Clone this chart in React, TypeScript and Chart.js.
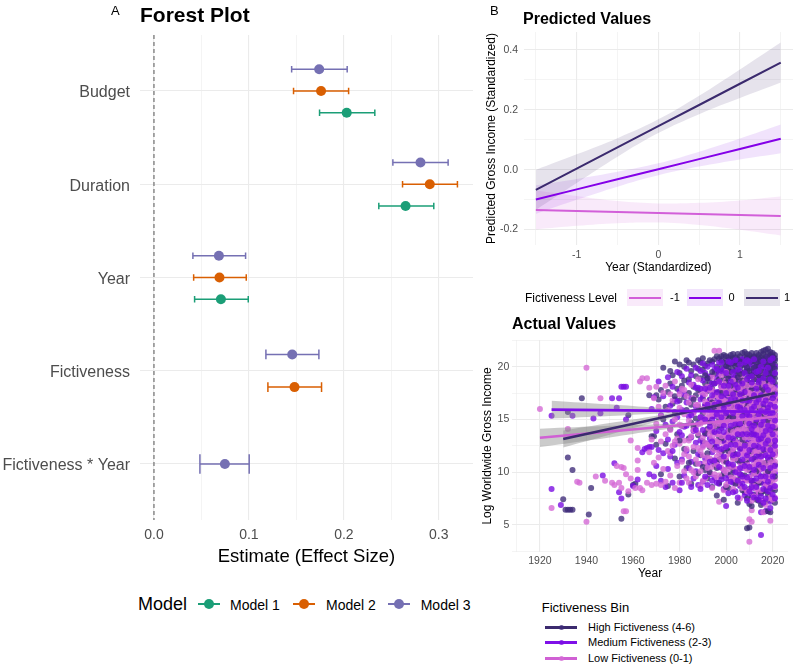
import { useEffect, useRef } from 'react';
import { Chart, registerables } from 'chart.js';

Chart.register(...registerables);

const FONT = '"Liberation Sans", Arial, Helvetica, sans-serif';
Chart.defaults.font.family = FONT;

// ---------- Panel A: forest plot ----------
const predictors = ['Budget', 'Duration', 'Year', 'Fictiveness', 'Fictiveness * Year'];
const modelNames = ['Model 1', 'Model 2', 'Model 3'];
const model1Estimate = [0.203, 0.265, 0.0705, null, null];
const model1Lower = [0.1744, 0.2368, 0.0428, null, null];
const model1Upper = [0.2326, 0.2947, 0.0993, null, null];
const model2Estimate = [0.176, 0.2905, 0.069, 0.148, null];
const model2Lower = [0.147, 0.2618, 0.0418, 0.12, null];
const model2Upper = [0.205, 0.3196, 0.0972, 0.1765, null];
const model3Estimate = [0.174, 0.2807, 0.0684, 0.1456, 0.0747];
const model3Lower = [0.145, 0.2516, 0.041, 0.1179, 0.0484];
const model3Upper = [0.2035, 0.3098, 0.0965, 0.1737, 0.1003];
const effectTicks = [0, 0.05, 0.1, 0.15, 0.2, 0.25, 0.3];
const effectTickLabels = ['0.0', '', '0.1', '', '0.2', '', '0.3'];

// ---------- Panel B (top): predicted values ----------
const predYear = [-1.5, -1, -0.5, 0, 0.5, 1, 1.5];
const fitLevelNeg1 = [-0.135, -0.138, -0.142, -0.145, -0.148, -0.152, -0.155];
const lowerLevelNeg1 = [-0.2, -0.188, -0.179, -0.177, -0.185, -0.201, -0.22];
const upperLevelNeg1 = [-0.07, -0.088, -0.105, -0.113, -0.111, -0.103, -0.09];
const fitLevel0 = [-0.1, -0.066, -0.032, 0.001, 0.035, 0.069, 0.103];
const lowerLevel0 = [-0.148, -0.101, -0.057, -0.019, 0.01, 0.034, 0.055];
const upperLevel0 = [-0.052, -0.031, -0.007, 0.021, 0.06, 0.104, 0.151];
const fitLevel1 = [-0.068, 0.003, 0.074, 0.145, 0.216, 0.287, 0.358];
const lowerLevel1 = [-0.135, -0.045, 0.043, 0.122, 0.185, 0.239, 0.291];
const upperLevel1 = [-0.001, 0.051, 0.105, 0.168, 0.247, 0.335, 0.425];
const predXTicks = [-1.5, -1, -0.5, 0, 0.5, 1, 1.5];
const predXTickLabels = ['', '-1', '', '0', '', '1', ''];
const predYTicks = [-0.2, -0.1, 0, 0.1, 0.2, 0.3, 0.4];
const predYTickLabels = ['-0.2', '', '0.0', '', '0.2', '', '0.4'];
const levelLabels = ['-1', '0', '1'];

// ---------- Panel B (bottom): actual values, films listed in two batches ----------
const highFictivenessA: Array<[number, number[]]> = [
  [1930, [7.45]], [1931, [6.45]], [1932, [11.4, 6.45, 15.7]], [1933, [6.45]], [1934, [10.2, 6.45]],
  [1938, [17.0]], [1941, [6.0]], [1942, [8.5]], [1955, [5.6]], [1958, [15.4, 7.9]], [1960, [8.8]],
  [1961, [8.9]], [1967, [17.3]], [1968, [13.4]], [1969, [13.4]],
  [1970, [17.3, 12.6]], [1971, [16.9]], [1972, [17.8, 9.8]], [1973, [19.9, 15.0]], [1974, [12.7, 16.2]],
  [1975, [17.6, 8.7]], [1976, [18.4, 14.1]], [1977, [16.5, 19.2]], [1978, [20.5, 11.3, 15.7]],
  [1979, [17.9, 13.6]], [1980, [19.4, 16.8, 9.6]], [1981, [18.2, 14.4]], [1982, [20.0, 17.1, 12.2]],
  [1983, [20.6, 15.9, 10.4]], [1984, [18.8, 13.2, 17.5]], [1985, [19.6, 16.4, 8.9, 14.7]],
  [1986, [18.1, 12.0, 20.2]], [1987, [17.3, 15.1, 10.8, 19.1]], [1988, [16.2, 19.8, 13.5]],
  [1989, [18.9, 14.8, 11.6, 20.4]], [1990, [19.7, 17.0, 12.9, 15.6]], [1991, [18.4, 10.2, 16.3, 20.1]],
  [1992, [20.3, 14.1, 17.7, 9.4]], [1993, [19.0, 16.9, 12.4, 18.5]], [1994, [20.5, 15.3, 11.1, 17.9, 13.8]],
  [1995, [19.3, 17.2, 14.6, 10.7, 20.7]], [1996, [18.6, 20.0, 16.1, 12.8, 7.8]],
  [1997, [20.8, 17.6, 15.0, 13.3, 19.5]], [1998, [19.9, 18.2, 16.6, 11.9, 14.4]],
  [1999, [20.4, 18.8, 17.1, 15.5, 9.9, 13.0]], [2000, [20.6, 19.2, 17.8, 16.0, 12.3, 14.9]],
  [2001, [20.9, 19.6, 18.3, 16.8, 13.7, 10.6, 8.5]], [2002, [20.2, 18.9, 17.4, 15.2, 12.0, 20.7]],
  [2003, [20.8, 19.7, 18.6, 16.3, 14.2, 11.4, 9.2]], [2004, [20.5, 19.0, 17.9, 15.8, 13.1, 10.1, 20.9]],
  [2005, [20.7, 19.4, 18.1, 16.6, 14.7, 12.6, 7.1]], [2006, [21.0, 19.9, 18.7, 17.3, 15.4, 13.5, 11.0, 8.8]],
  [2007, [20.6, 19.3, 18.0, 16.9, 14.0, 12.2, 9.6]], [2008, [20.9, 20.1, 18.5, 17.6, 15.9, 13.8, 10.9, 8.1]],
  [2009, [20.4, 19.6, 18.9, 17.0, 15.1, 12.7, 9.3, 4.7]],
  [2010, [21.1, 20.3, 19.1, 17.7, 16.4, 14.5, 11.8, 8.4, 4.75]],
  [2011, [20.8, 19.8, 18.4, 16.7, 15.3, 13.2, 10.5, 7.6]],
  [2012, [21.0, 20.5, 19.4, 18.2, 16.1, 14.8, 12.5, 9.9, 7.9]],
  [2013, [20.7, 20.0, 18.8, 17.4, 15.6, 13.6, 11.2, 8.7]],
  [2014, [21.1, 20.6, 19.7, 18.6, 17.2, 15.0, 12.9, 10.3, 7.3]],
  [2015, [20.9, 20.2, 19.0, 17.8, 16.3, 14.3, 11.6, 9.0, 6.9]],
  [2016, [21.2, 20.7, 19.5, 18.3, 16.9, 15.5, 13.4, 10.8, 8.2]],
  [2017, [21.0, 20.4, 19.8, 18.0, 16.6, 14.1, 12.1, 9.5, 7.2, 6.3]],
  [2018, [21.7, 20.8, 20.1, 19.2, 17.5, 15.8, 13.9, 11.4, 8.6]],
  [2019, [21.4, 20.9, 20.3, 19.6, 18.7, 17.1, 14.6, 12.3, 10.0, 7.4]],
  [2020, [21.0, 20.6, 19.9, 18.9, 17.9, 16.2, 13.3, 11.7, 9.4, 7.6]],
  [2021, [20.8, 20.2, 19.3, 18.4, 16.8, 15.2, 13.0, 10.7, 8.3]],
];
const highFictivenessB: Array<[number, number[]]> = [
  [1976, [19.6]], [1978, [17.2]], [1980, [20.2, 13.0]], [1982, [18.7]], [1984, [20.4, 10.9]],
  [1986, [16.9, 14.3]], [1988, [20.6, 17.8, 9.9]], [1990, [20.8, 10.5]], [1991, [19.2, 13.7]],
  [1992, [18.9, 11.8, 16.0]], [1993, [20.6, 14.7, 10.0]], [1994, [19.5, 16.6, 8.6]],
  [1995, [18.4, 16.0, 12.3]], [1996, [21.0, 17.5, 14.3, 10.4]], [1997, [18.8, 16.3, 11.2, 9.0]],
  [1998, [21.0, 20.6, 17.5, 13.2, 9.6]], [1999, [21.1, 19.4, 16.4, 12.1, 7.4]],
  [2000, [21.0, 20.1, 18.5, 15.3, 11.0, 8.6]], [2001, [20.3, 18.9, 17.5, 15.2, 12.0, 19.9]],
  [2002, [21.1, 19.5, 18.2, 16.3, 14.0, 9.8, 13.1]], [2003, [21.2, 20.3, 17.5, 15.2, 13.0, 10.2]],
  [2004, [20.1, 19.6, 18.6, 17.1, 14.4, 11.7, 8.9]], [2005, [21.2, 20.2, 19.0, 17.5, 15.7, 13.6, 11.1, 9.3]],
  [2006, [20.5, 19.3, 18.2, 16.2, 14.4, 12.3, 9.8]], [2007, [21.3, 20.2, 18.7, 17.5, 15.5, 13.1, 10.9, 8.3]],
  [2008, [21.4, 19.5, 18.0, 16.7, 14.8, 12.6, 9.7]], [2009, [21.2, 20.9, 19.9, 18.3, 16.3, 14.0, 11.2, 7.5]],
  [2010, [20.8, 19.6, 18.5, 17.0, 15.5, 13.4, 10.2, 7.0]],
  [2011, [21.3, 20.5, 19.2, 17.9, 16.2, 14.4, 12.0, 9.2, 6.8]],
  [2012, [20.9, 19.9, 18.8, 17.3, 15.5, 13.8, 11.3, 8.8]],
  [2013, [21.3, 20.4, 19.4, 18.2, 16.8, 14.7, 12.3, 10.1, 7.4]],
  [2014, [20.9, 20.1, 19.2, 17.9, 16.1, 14.1, 11.7, 9.0]],
  [2015, [21.4, 20.6, 19.6, 18.4, 17.1, 15.4, 13.2, 10.6, 8.0]],
  [2016, [21.5, 20.2, 19.0, 17.8, 16.2, 14.4, 12.1, 9.6, 7.1]],
  [2017, [21.6, 20.8, 19.3, 18.7, 17.3, 15.4, 13.3, 10.9, 8.3]],
  [2018, [21.3, 20.4, 19.6, 18.4, 16.7, 14.9, 12.7, 10.1, 7.9, 6.3]],
  [2019, [21.1, 20.6, 19.9, 19.0, 18.1, 16.3, 13.5, 11.2, 8.9, 6.2]],
  [2020, [21.3, 20.9, 20.2, 19.4, 18.4, 17.0, 15.0, 12.6, 10.6, 8.4]],
  [2021, [21.1, 20.6, 19.8, 18.9, 17.6, 15.9, 14.1, 12.0, 9.6, 7.1]],
];

const mediumFictivenessA: Array<[number, number[]]> = [
  [1925, [15.35, 8.4]], [1929, [6.9]], [1934, [15.35]], [1943, [15.1]], [1946, [15.6]], [1947, [9.7]],
  [1951, [17.0]], [1952, [10.85]], [1953, [16.1]], [1954, [17.0, 8.1]], [1955, [18.1, 7.5]],
  [1956, [18.1]], [1957, [18.1, 15.0]], [1960, [8.7]], [1962, [9.3]], [1964, [11.9]], [1965, [12.2]],
  [1966, [12.3]], [1967, [12.4, 9.8]], [1968, [16.0, 12.4]], [1969, [9.6, 17.1]], [1970, [13.9, 10.6]],
  [1971, [18.6, 12.1]], [1972, [15.4, 9.2]], [1973, [11.8, 17.2]], [1974, [14.5, 8.6]],
  [1975, [19.0, 13.1, 10.3]], [1976, [16.3, 11.5]], [1977, [18.1, 9.0, 14.8]], [1978, [12.6, 16.9]],
  [1979, [19.5, 10.9, 15.2]], [1980, [13.8, 17.7, 8.3]], [1981, [11.2, 15.9, 19.1]],
  [1982, [14.3, 9.7, 17.4]], [1983, [16.6, 12.0, 19.8]], [1984, [10.4, 15.3, 18.5]],
  [1985, [13.3, 17.0, 11.0, 19.2]], [1986, [15.7, 9.4, 18.3, 13.9]], [1987, [12.8, 16.2, 19.9, 10.1]],
  [1988, [14.6, 18.0, 11.7, 8.8]], [1989, [16.9, 13.0, 19.6, 10.8]], [1990, [15.1, 18.7, 12.5, 9.1, 17.3]],
  [1991, [13.6, 16.4, 19.4, 11.3]], [1992, [17.8, 14.9, 10.6, 18.9, 12.7]],
  [1993, [15.9, 13.2, 19.1, 9.8, 16.8]], [1994, [18.4, 14.0, 11.9, 16.1, 20.2]],
  [1995, [12.4, 17.5, 15.3, 9.5, 19.7]], [1996, [16.7, 13.7, 18.9, 10.9, 14.5]],
  [1997, [19.3, 15.6, 12.1, 17.2, 8.9, 20.4]], [1998, [14.2, 18.1, 16.0, 11.4, 13.1]],
  [1999, [17.0, 19.8, 12.9, 15.1, 10.2, 8.4]], [2000, [18.6, 14.7, 16.6, 11.1, 13.5, 20.0, 6.8]],
  [2001, [15.8, 19.4, 12.6, 17.3, 9.7, 14.1]], [2002, [17.9, 13.4, 16.2, 10.5, 19.0, 11.8, 15.0]],
  [2003, [14.8, 18.3, 12.0, 16.9, 9.0, 20.3]], [2004, [16.4, 19.1, 13.9, 11.5, 17.7, 15.2, 8.2]],
  [2005, [18.8, 15.5, 12.8, 17.0, 10.0, 14.3, 20.5]], [2006, [13.6, 16.8, 19.6, 11.0, 15.7, 8.7, 18.2]],
  [2007, [17.4, 14.4, 12.2, 19.3, 16.0, 10.4, 20.7]],
  [2008, [15.3, 18.6, 13.1, 11.7, 16.9, 9.3, 14.0, 7.8]],
  [2009, [19.9, 16.3, 12.5, 17.6, 10.8, 14.9, 8.0]],
  [2010, [17.1, 13.8, 15.9, 11.3, 19.2, 9.6, 18.3, 12.9]],
  [2011, [16.5, 14.6, 20.2, 10.1, 17.8, 12.4, 7.9, 15.4]],
  [2012, [18.0, 13.0, 15.6, 11.9, 19.6, 9.2, 16.7, 8.5]],
  [2013, [14.2, 17.3, 20.0, 12.7, 10.6, 15.8, 18.9, 7.7]],
  [2014, [16.1, 19.0, 13.5, 11.1, 17.9, 9.8, 14.7, 20.6, 8.1]],
  [2015, [15.0, 18.4, 12.3, 16.6, 10.3, 19.5, 13.9, 4.05, 6.2]],
  [2016, [17.6, 14.0, 11.6, 19.8, 15.9, 9.0, 12.8, 18.2]],
  [2017, [16.0, 20.3, 13.2, 10.7, 17.5, 14.8, 8.8, 6.3]],
  [2018, [18.7, 15.2, 12.1, 19.4, 16.8, 10.0, 13.7, 20.9]],
  [2019, [14.5, 17.2, 11.4, 19.9, 15.6, 9.4, 13.0, 18.4, 7.2]],
  [2020, [16.3, 19.1, 12.6, 14.9, 10.9, 17.7, 20.4, 8.6]],
  [2021, [15.5, 18.1, 13.4, 11.8, 16.9, 9.9, 20.0, 14.2]],
];
const mediumFictivenessB: Array<[number, number[]]> = [
  [1977, [12.0]], [1979, [16.7]], [1981, [13.5, 9.0]], [1983, [14.4]], [1985, [15.4, 8.6]],
  [1987, [14.0, 18.0]], [1989, [15.2, 8.4, 17.9]], [1990, [14.0, 20.3]], [1991, [17.9, 9.6, 15.0]],
  [1992, [16.4, 8.8, 20.0]], [1993, [18.0, 11.0, 14.3]], [1994, [12.9, 17.3, 9.2, 15.0]],
  [1995, [18.4, 13.8, 16.4, 11.1]], [1996, [19.8, 15.5, 12.4, 9.0, 17.6]], [1997, [16.6, 13.9, 10.5, 18.6]],
  [1998, [19.6, 17.2, 12.2, 9.3, 15.2, 20.4]], [1999, [18.2, 16.1, 13.8, 11.5, 14.4]],
  [2000, [19.4, 17.5, 15.6, 12.4, 9.4]], [2001, [20.5, 18.2, 16.5, 13.3, 10.8, 8.0]],
  [2002, [20.4, 18.6, 14.4, 12.6, 9.1, 16.9]], [2003, [19.5, 17.4, 15.6, 13.2, 10.7, 11.6, 8.1]],
  [2004, [20.6, 18.3, 16.9, 14.6, 12.6, 10.0]], [2005, [19.7, 16.2, 13.6, 11.7, 9.2, 18.0, 7.6]],
  [2006, [20.2, 17.4, 14.6, 12.2, 9.8, 16.1, 10.4]], [2007, [18.4, 15.3, 13.6, 11.2, 8.9, 16.8, 9.6]],
  [2008, [20.4, 17.6, 15.9, 12.5, 10.6, 19.4, 8.6]], [2009, [18.8, 15.5, 13.6, 11.6, 9.5, 20.6, 16.8, 7.3]],
  [2010, [20.5, 16.8, 14.6, 12.1, 10.5, 8.2, 15.3]], [2011, [19.1, 18.5, 16.0, 13.6, 11.2, 9.2, 14.1, 8.6]],
  [2012, [20.7, 17.3, 14.4, 12.5, 10.2, 16.2, 7.6, 13.6]], [2013, [19.5, 16.6, 13.5, 11.5, 9.4, 15.0, 8.6, 17.9]],
  [2014, [18.5, 16.9, 15.5, 12.4, 10.7, 13.1, 7.4, 19.6]], [2015, [20.0, 17.3, 14.5, 11.5, 9.6, 15.8, 7.7, 13.2]],
  [2016, [20.5, 18.9, 16.5, 13.5, 10.4, 8.4, 14.9, 12.2, 7.1]],
  [2017, [19.4, 18.1, 15.7, 12.7, 11.6, 9.6, 16.8, 7.5, 13.9]],
  [2018, [17.8, 16.1, 14.4, 11.4, 9.1, 13.0, 8.2, 19.9, 15.8]],
  [2019, [20.6, 18.8, 16.4, 14.0, 12.1, 10.4, 8.5, 15.3, 6.6]],
  [2020, [18.6, 17.0, 15.6, 13.6, 11.7, 9.6, 7.9, 20.8, 14.3]],
  [2021, [19.4, 17.4, 16.2, 12.5, 10.6, 8.7, 14.9, 13.0, 7.5]],
];

const lowFictivenessA: Array<[number, number[]]> = [
  [1920, [16.0]], [1925, [6.6]], [1932, [14.1]], [1936, [9.1]], [1937, [9.0]], [1940, [19.9, 5.3]],
  [1944, [9.6]], [1946, [17.0]], [1948, [9.2]], [1951, [9.0]], [1952, [8.8]], [1953, [10.6]],
  [1954, [9.0]], [1955, [10.5, 8.5]], [1956, [10.4, 6.3]], [1957, [6.3, 9.8]], [1958, [8.2]],
  [1959, [9.4, 13.0]], [1961, [8.5]], [1962, [12.3, 11.1, 10.2]], [1963, [8.5, 18.6]], [1964, [18.9, 8.3]],
  [1966, [18.9, 9.0]], [1967, [18.0, 11.9]], [1968, [13.1, 8.8]], [1969, [17.0, 10.9]],
  [1970, [18.1, 8.9, 14.6]], [1971, [11.4, 16.2]], [1972, [8.8, 15.3, 12.9]], [1973, [17.5, 10.3]],
  [1974, [13.6, 9.1, 18.2]], [1975, [15.9, 12.0]], [1976, [9.7, 17.4, 14.0]], [1977, [12.5, 16.8]],
  [1978, [8.5, 15.0, 18.6]], [1979, [13.2, 10.6]], [1980, [16.1, 12.7, 9.0]], [1981, [14.4, 17.9, 11.0]],
  [1982, [10.1, 15.5, 13.0]], [1983, [17.2, 12.2, 9.4]], [1984, [14.9, 16.6, 11.5]],
  [1985, [13.4, 10.2, 18.3]], [1986, [15.6, 12.4, 17.0]], [1987, [11.2, 14.3, 16.4, 9.6]],
  [1988, [18.8, 13.7, 10.8]], [1989, [15.2, 12.0, 17.6, 14.6]], [1990, [11.6, 16.0, 13.3, 9.2]],
  [1991, [17.4, 14.8, 10.9, 15.7]], [1992, [12.6, 18.1, 13.9, 16.5]], [1993, [15.4, 11.3, 17.8, 9.9]],
  [1994, [14.1, 16.9, 12.3, 10.5, 19.0]], [1995, [21.5, 15.8, 13.0, 17.3, 11.1]],
  [1996, [16.4, 12.9, 14.7, 9.4, 18.5]], [1997, [21.5, 13.6, 17.1, 11.8, 15.3, 7.2]],
  [1998, [14.9, 18.0, 12.1, 16.2, 10.4]], [1999, [13.3, 15.9, 17.7, 11.0, 8.3]],
  [2000, [16.7, 12.5, 14.5, 18.7, 10.0, 15.1]], [2001, [13.8, 17.4, 11.7, 15.6, 9.1, 19.4]],
  [2002, [15.0, 12.8, 16.9, 14.1, 10.7, 18.3]], [2003, [17.9, 13.1, 15.7, 11.2, 16.3, 9.5]],
  [2004, [14.4, 18.6, 12.4, 16.0, 10.3, 15.2]], [2005, [16.8, 13.9, 11.4, 17.5, 14.8, 8.9]],
  [2006, [15.3, 19.1, 12.7, 16.4, 10.9, 14.0, 7.5]], [2007, [17.2, 14.6, 13.0, 15.9, 11.8, 9.7, 18.8]],
  [2008, [16.1, 12.1, 14.9, 17.8, 10.4, 15.5, 8.4]], [2009, [13.5, 17.0, 15.4, 11.0, 16.7, 12.6, 9.2]],
  [2010, [15.8, 18.4, 12.2, 14.3, 16.9, 10.6, 3.4, 5.55]],
  [2011, [14.7, 17.6, 13.3, 11.5, 15.9, 9.0, 5.3, 6.4]],
  [2012, [16.5, 12.9, 15.1, 18.9, 10.8, 13.8, 7.7]],
  [2013, [15.6, 17.3, 11.9, 14.4, 16.2, 9.9, 12.4]],
  [2014, [13.0, 16.8, 14.9, 18.1, 10.2, 15.7, 8.1]],
  [2015, [17.9, 14.1, 12.5, 16.0, 11.3, 15.2, 9.4, 19.5]],
  [2016, [15.4, 13.6, 17.0, 11.8, 16.6, 14.5, 10.5, 6.2]],
  [2017, [16.3, 12.3, 15.0, 18.5, 13.1, 10.0, 17.6, 8.7]],
  [2018, [14.8, 17.2, 12.8, 16.1, 15.3, 11.1, 9.6, 13.9, 7.5]],
  [2019, [16.9, 13.4, 15.7, 12.0, 17.8, 14.6, 10.3, 5.4, 8.0, 11.6]],
  [2020, [15.1, 17.5, 13.7, 16.3, 12.6, 14.2, 11.2, 9.9, 15.8, 8.5]],
  [2021, [16.6, 14.0, 12.9, 15.4, 17.1, 13.2, 11.0, 9.3, 7.6, 14.8]],
];
const lowFictivenessB: Array<[number, number[]]> = [
  [1976, [11.8]], [1978, [12.9]], [1980, [14.5, 17.4]], [1982, [17.8, 11.7]], [1984, [13.0, 9.0]],
  [1986, [14.0, 10.0]], [1988, [16.4, 12.3]], [1989, [10.1, 8.7]], [1990, [14.8, 17.9, 12.4]],
  [1991, [12.8, 16.7, 9.4]], [1992, [15.2, 10.4, 11.4]], [1993, [13.6, 16.4, 12.5]],
  [1994, [15.5, 13.3, 8.5, 17.8]], [1995, [14.4, 12.1, 16.5, 9.8]], [1996, [15.7, 11.5, 17.3, 13.6, 10.7]],
  [1997, [14.6, 16.2, 12.8, 9.7, 18.6]], [1998, [13.4, 17.0, 15.7, 11.2, 19.2]],
  [1999, [16.8, 14.6, 12.4, 18.4, 10.2, 15.3]], [2000, [13.4, 17.6, 11.4, 15.9, 8.8, 19.5]],
  [2001, [16.3, 14.8, 12.7, 18.1, 10.3, 13.2]], [2002, [17.6, 15.8, 13.4, 11.8, 9.5, 16.3]],
  [2003, [14.6, 18.7, 12.2, 16.9, 10.5, 13.8, 8.4]], [2004, [17.3, 15.7, 13.7, 11.3, 9.3, 16.6, 12.9]],
  [2005, [15.6, 18.2, 12.6, 10.3, 16.2, 14.0, 9.9]], [2006, [17.8, 13.6, 15.8, 11.7, 9.2, 16.9, 14.7]],
  [2007, [16.5, 12.4, 14.1, 10.6, 18.1, 15.2, 8.5]], [2008, [18.6, 13.3, 15.9, 11.3, 16.8, 14.2, 9.3, 12.5]],
  [2009, [14.7, 18.2, 16.0, 12.0, 10.2, 13.9, 8.2, 17.6]], [2010, [17.5, 13.3, 15.4, 11.4, 9.5, 16.2, 14.9, 8.3]],
  [2011, [18.3, 16.5, 12.7, 14.2, 10.4, 15.4, 7.3, 17.1]], [2012, [17.4, 14.1, 16.0, 11.9, 9.8, 12.6, 15.7, 8.7]],
  [2013, [18.2, 13.1, 15.1, 10.9, 16.8, 14.0, 8.4, 12.0]], [2014, [17.5, 12.0, 14.1, 16.3, 11.1, 9.2, 15.3, 13.6]],
  [2015, [16.7, 13.4, 15.8, 10.4, 12.3, 17.1, 14.6, 8.3]],
  [2016, [18.4, 12.7, 15.9, 14.0, 10.9, 16.9, 9.5, 13.3, 7.3]],
  [2017, [17.3, 14.4, 15.6, 11.6, 13.6, 16.6, 9.3, 12.7, 6.9]],
  [2018, [18.1, 16.6, 13.3, 15.8, 12.2, 10.6, 14.4, 8.7, 17.6]],
  [2019, [18.3, 15.2, 16.4, 12.8, 14.1, 11.0, 9.3, 13.6, 16.0, 7.6]],
  [2020, [18.0, 16.8, 14.7, 13.1, 15.4, 11.8, 10.5, 12.2, 8.9, 16.0, 7.4]],
  [2021, [17.8, 16.1, 15.9, 13.7, 12.4, 14.4, 10.2, 11.6, 8.6, 15.1, 12.0]],
];

// Linear trend per bin with its confidence band
const trendYearsHigh = [1930, 2021];
const trendHigh = [13.15, 17.5];
const trendYearsMedium = [1925, 2021];
const trendMedium = [15.93, 15.72];
const trendYearsLow = [1920, 2021];
const trendLow = [13.26, 15.26];
const bandYearsHigh = [1930, 1950, 1970, 1990, 2010, 2021];
const bandLowerHigh = [12.35, 13.56, 14.76, 15.89, 16.87, 17.36];
const bandUpperHigh = [13.95, 14.66, 15.36, 16.15, 17.07, 17.64];
const bandYearsMedium = [1925, 1950, 1970, 1990, 2010, 2021];
const bandLowerMedium = [15.08, 15.33, 15.55, 15.69, 15.66, 15.6];
const bandUpperMedium = [16.78, 16.43, 16.11, 15.89, 15.82, 15.84];
const bandYearsLow = [1920, 1950, 1970, 1990, 2010, 2021];
const bandLowerLow = [12.39, 13.3, 13.95, 14.53, 14.96, 15.14];
const bandUpperLow = [14.13, 14.4, 14.55, 14.77, 15.12, 15.38];
const yearTicks = [1910, 1920, 1930, 1940, 1950, 1960, 1970, 1980, 1990, 2000, 2010, 2020];
const yearTickLabels = ['', '1920', '', '1940', '', '1960', '', '1980', '', '2000', '', '2020'];
const incomeTicks = [2.5, 5, 7.5, 10, 12.5, 15, 17.5, 20, 22.5];
const incomeTickLabels = ['', '5', '', '10', '', '15', '', '20', ''];
const binLabels = ['High Fictiveness (4-6)', 'Medium Fictiveness (2-3)', 'Low Fictiveness (0-1)'];

// ---------- styling ----------
const MODEL_COLORS = ['#1B9E77', '#D95F02', '#7570B3'];
const LEVEL_LINE = ['#D25FD9', '#8400E8', '#3B2A6E'];
const LEVEL_FILL = ['rgba(210,95,217,0.13)', 'rgba(132,0,232,0.11)', 'rgba(59,42,110,0.13)'];
const BIN_LINE = ['#3B2A6E', '#7F10E8', '#D060D4'];
const BIN_POINT = ['rgba(62,42,120,0.78)', 'rgba(122,14,226,0.8)', 'rgba(212,106,214,0.8)'];
const GRID = '#EBEBEB';
const TICK_TEXT = '#4D4D4D';
const DODGE_WIDTH = 0.7;
const CAP_FRACTION = 0.15;

const pairs = (xs: number[], ys: number[]) => xs.map((x, i) => ({ x, y: ys[i] }));

const gridWidth = (majors: number[]) => (ctx: any) =>
  ctx.tick && majors.includes(ctx.tick.value) ? 1.1 : 0.55;

const fixedTicks = (values: number[]) => (scale: any) => {
  scale.ticks = values.map((value) => ({ value }));
};

const errorBarPlugin = {
  id: 'forestErrorBars',
  beforeDatasetsDraw(chart: any) {
    const { ctx } = chart;
    const xs = chart.scales.x;
    const ys = chart.scales.y;
    ctx.save();
    ctx.lineWidth = 1.5;
    chart.data.datasets.forEach((ds: any) => {
      if (!ds.errorBars) return;
      ctx.strokeStyle = ds.backgroundColor;
      ds.errorBars.forEach((b: any) => {
        const py = ys.getPixelForValue(b.y);
        const h = Math.abs(ys.getPixelForValue(b.y + b.cap) - py);
        const x0 = xs.getPixelForValue(b.lo);
        const x1 = xs.getPixelForValue(b.hi);
        ctx.beginPath();
        ctx.moveTo(x0, py);
        ctx.lineTo(x1, py);
        ctx.moveTo(x0, py - h);
        ctx.lineTo(x0, py + h);
        ctx.moveTo(x1, py - h);
        ctx.lineTo(x1, py + h);
        ctx.stroke();
      });
    });
    ctx.restore();
  },
};

function forestDatasets() {
  const est = [model1Estimate, model2Estimate, model3Estimate];
  const lo = [model1Lower, model2Lower, model3Lower];
  const hi = [model1Upper, model2Upper, model3Upper];
  const sets: any[] = [];
  modelNames.forEach((name, m) => {
    const data: any[] = [];
    const bars: any[] = [];
    predictors.forEach((_, row) => {
      if (est[m][row] == null) return;
      const present = modelNames.map((_, i) => i).filter((i) => est[i][row] != null);
      const n = present.length;
      const k = present.indexOf(m);
      const slot = DODGE_WIDTH / n;
      const y = row + 1 - (k - (n - 1) / 2) * slot;
      data.push({ x: est[m][row], y });
      bars.push({ y, lo: lo[m][row], hi: hi[m][row], cap: CAP_FRACTION * slot });
    });
    sets.push({
      label: name,
      data,
      errorBars: bars,
      backgroundColor: MODEL_COLORS[m],
      borderWidth: 0,
      pointRadius: 5,
    });
  });
  sets.push({
    type: 'line',
    label: 'zero',
    data: [{ x: 0, y: 0.4 }, { x: 0, y: 5.6 }],
    borderColor: '#7A7A7A',
    borderWidth: 1.3,
    borderDash: [4, 3],
    pointRadius: 0,
  });
  return sets.reverse();
}

function flatten(byYear: Array<[number, number[]]>) {
  const out: { x: number; y: number }[] = [];
  byYear.forEach(([year, values]) => values.forEach((v) => out.push({ x: year, y: v })));
  return out;
}

function useChart(ref: any, build: () => any) {
  useEffect(() => {
    const chart = new Chart(ref.current, build());
    return () => chart.destroy();
  }, []);
}

const baseOptions = {
  responsive: false,
  animation: false,
  devicePixelRatio: 1,
  events: [],
  plugins: { legend: { display: false }, tooltip: { enabled: false } },
};

function ForestPlot() {
  const ref = useRef<HTMLCanvasElement>(null);
  useChart(ref, () => ({
    type: 'scatter',
    data: { datasets: forestDatasets() },
    plugins: [errorBarPlugin],
    options: {
      ...baseOptions,
      layout: { padding: { top: 35, right: 7, left: 0, bottom: 0 } },
      scales: {
        x: {
          type: 'linear',
          min: -0.0147,
          max: 0.336,
          afterBuildTicks: fixedTicks(effectTicks),
          afterFit: (s: any) => { s.height = 50; },
          ticks: {
            autoSkip: false,
            maxRotation: 0,
            padding: 6.5,
            color: TICK_TEXT,
            font: { size: 14 },
            callback: (_v: any, i: number) => effectTickLabels[i],
          },
          grid: { color: GRID, lineWidth: gridWidth([0, 0.1, 0.2, 0.3]), drawTicks: false },
          border: { display: false },
          title: {
            display: true,
            text: 'Estimate (Effect Size)',
            color: '#000',
            font: { size: 18.5 },
            padding: { top: 0, bottom: 1.5 },
          },
        },
        y: {
          type: 'linear',
          reverse: true,
          min: 0.4,
          max: 5.6,
          afterBuildTicks: fixedTicks(predictors.map((_, i) => i + 1)),
          afterFit: (s: any) => { s.width = 140; },
          ticks: {
            autoSkip: false,
            padding: 10,
            labelOffset: 2,
            color: TICK_TEXT,
            font: { size: 16 },
            callback: (v: any) => predictors[Math.round(v) - 1],
          },
          grid: { color: GRID, lineWidth: 1.1, drawTicks: false },
          border: { display: false },
        },
      },
    },
  }));
  return <canvas ref={ref} width={480} height={570} style={{ position: 'absolute', left: 0, top: 0 }} />;
}

function PredictedPlot() {
  const ref = useRef<HTMLCanvasElement>(null);
  useChart(ref, () => {
    const fits = [fitLevelNeg1, fitLevel0, fitLevel1];
    const lows = [lowerLevelNeg1, lowerLevel0, lowerLevel1];
    const highs = [upperLevelNeg1, upperLevel0, upperLevel1];
    const lines = [2, 1, 0].map((i) => ({
      type: 'line',
      label: levelLabels[i],
      data: pairs(predYear, fits[i]),
      borderColor: LEVEL_LINE[i],
      borderWidth: 2,
      pointRadius: 0,
      fill: false,
    }));
    const bands: any[] = [];
    [2, 1, 0].forEach((i) => {
      bands.push({
        type: 'line',
        data: pairs(predYear, highs[i]),
        borderWidth: 0,
        borderColor: 'transparent',
        pointRadius: 0,
        tension: 0.4,
        fill: '+1',
        backgroundColor: LEVEL_FILL[i],
      });
      bands.push({
        type: 'line',
        data: pairs(predYear, lows[i]),
        borderWidth: 0,
        borderColor: 'transparent',
        pointRadius: 0,
        tension: 0.4,
        fill: false,
      });
    });
    return {
      type: 'scatter',
      data: { datasets: [...lines, ...bands] },
      options: {
        ...baseOptions,
        layout: { padding: { top: 32, right: 7, left: 0, bottom: 0 } },
        scales: {
          x: {
            type: 'linear',
            min: -1.65,
            max: 1.65,
            afterBuildTicks: fixedTicks(predXTicks),
            afterFit: (s: any) => { s.height = 35; },
            ticks: {
              autoSkip: false,
              maxRotation: 0,
              padding: 3.7,
              color: TICK_TEXT,
              font: { size: 10.5 },
              callback: (_v: any, i: number) => predXTickLabels[i],
            },
            grid: { color: GRID, lineWidth: gridWidth([-1, 0, 1]), drawTicks: false },
            border: { display: false },
            title: {
              display: true,
              text: 'Year (Standardized)',
              color: '#000',
              font: { size: 12 },
              padding: { top: 0, bottom: 4.8 },
            },
          },
          y: {
            type: 'linear',
            min: -0.252,
            max: 0.46,
            afterBuildTicks: fixedTicks(predYTicks),
            afterFit: (s: any) => { s.width = 43.6; },
            ticks: {
              autoSkip: false,
              padding: 5.5,
              color: TICK_TEXT,
              font: { size: 10.5 },
              callback: (_v: any, i: number) => predYTickLabels[i],
            },
            grid: { color: GRID, lineWidth: gridWidth([-0.2, 0, 0.2, 0.4]), drawTicks: false },
            border: { display: false },
            title: {
              display: true,
              text: 'Predicted Gross Income (Standardized)',
              color: '#000',
              font: { size: 12 },
              padding: { top: 4.5, bottom: 0 },
            },
          },
        },
      },
    };
  });
  return <canvas ref={ref} width={320} height={280} style={{ position: 'absolute', left: 480, top: 0 }} />;
}

function ActualPlot() {
  const ref = useRef<HTMLCanvasElement>(null);
  useChart(ref, () => {
    const batchA = [highFictivenessA, mediumFictivenessA, lowFictivenessA].map(flatten);
    const batchB = [highFictivenessB, mediumFictivenessB, lowFictivenessB].map(flatten);
    const trendYears = [trendYearsHigh, trendYearsMedium, trendYearsLow];
    const trends = [trendHigh, trendMedium, trendLow];
    const bandYears = [bandYearsHigh, bandYearsMedium, bandYearsLow];
    const bandLows = [bandLowerHigh, bandLowerMedium, bandLowerLow];
    const bandHighs = [bandUpperHigh, bandUpperMedium, bandUpperLow];

    const lines = [1, 0, 2].map((i) => ({
      type: 'line',
      label: binLabels[i],
      data: pairs(trendYears[i], trends[i]),
      borderColor: BIN_LINE[i],
      borderWidth: 2.6,
      pointRadius: 0,
      fill: false,
    }));
    const bands: any[] = [];
    [0, 1, 2].forEach((i) => {
      bands.push({
        type: 'line',
        data: pairs(bandYears[i], bandHighs[i]),
        borderWidth: 0,
        borderColor: 'transparent',
        pointRadius: 0,
        tension: 0.4,
        fill: '+1',
        backgroundColor: 'rgba(140,140,140,0.45)',
      });
      bands.push({
        type: 'line',
        data: pairs(bandYears[i], bandLows[i]),
        borderWidth: 0,
        borderColor: 'transparent',
        pointRadius: 0,
        tension: 0.4,
        fill: false,
      });
    });
    // point layers, first listed is drawn on top; the bins alternate so their colours mix
    const layers: Array<[any[], number]> = [
      [batchB, 1], [batchB, 2], [batchB, 0],
      [batchA, 2], [batchA, 1], [batchA, 0],
    ];
    const points = layers.map(([batch, i]) => ({
      label: binLabels[i],
      data: batch[i],
      backgroundColor: BIN_POINT[i],
      borderWidth: 0,
      pointRadius: 3,
    }));
    return {
      type: 'scatter',
      data: { datasets: [...lines, ...bands, ...points] },
      options: {
        ...baseOptions,
        layout: { padding: { top: 30, right: 12, left: 0, bottom: 0 } },
        scales: {
          x: {
            type: 'linear',
            min: 1908,
            max: 2026.6,
            afterBuildTicks: fixedTicks(yearTicks),
            afterFit: (s: any) => { s.height = 30; },
            ticks: {
              autoSkip: false,
              maxRotation: 0,
              padding: 2.4,
              color: TICK_TEXT,
              font: { size: 10.5 },
              callback: (_v: any, i: number) => yearTickLabels[i],
            },
            grid: { color: GRID, lineWidth: gridWidth([1920, 1940, 1960, 1980, 2000, 2020]), drawTicks: false },
            border: { display: false },
            title: {
              display: true,
              text: 'Year',
              color: '#000',
              font: { size: 12 },
              padding: { top: 0, bottom: 1.5 },
            },
          },
          y: {
            type: 'linear',
            min: 2.44,
            max: 22.53,
            afterBuildTicks: fixedTicks(incomeTicks),
            afterFit: (s: any) => { s.width = 32; },
            ticks: {
              autoSkip: false,
              padding: 2.7,
              color: TICK_TEXT,
              font: { size: 10.5 },
              callback: (_v: any, i: number) => incomeTickLabels[i],
            },
            grid: { color: GRID, lineWidth: gridWidth([5, 10, 15, 20]), drawTicks: false },
            border: { display: false },
            title: {
              display: true,
              text: 'Log Worldwide Gross Income',
              color: '#000',
              font: { size: 12 },
              padding: { top: 0, bottom: 0 },
            },
          },
        },
      },
    };
  });
  return <canvas ref={ref} width={320} height={272} style={{ position: 'absolute', left: 480, top: 310 }} />;
}

// Text placed by its baseline (line-height equals font size)
function Label(props: { x: number; baseline: number; size: number; bold?: boolean; color?: string; children: any }) {
  const { x, baseline, size, bold, color, children } = props;
  return (
    <div
      style={{
        position: 'absolute',
        left: x,
        top: baseline - 0.8465 * size,
        fontSize: size,
        lineHeight: `${size}px`,
        fontWeight: bold ? 700 : 400,
        color: color || '#000',
        whiteSpace: 'nowrap',
        fontFamily: FONT,
      }}
    >
      {children}
    </div>
  );
}

function Box(props: { left: number; top: number; width: number; height: number; bg: string; radius?: number }) {
  const { left, top, width, height, bg, radius } = props;
  return (
    <div style={{ position: 'absolute', left, top, width, height, background: bg, borderRadius: radius || 0 }} />
  );
}

function ModelLegend() {
  const keyX = [198, 293, 388];
  const textX = [230, 326, 420.7];
  return (
    <>
      <Label x={138} baseline={610.5} size={18}>Model</Label>
      {modelNames.map((name, i) => (
        <div key={name}>
          <Box left={keyX[i]} top={603.2} width={22} height={1.6} bg={MODEL_COLORS[i]} />
          <Box left={keyX[i] + 6} top={599} width={10} height={10} bg={MODEL_COLORS[i]} radius={5} />
          <Label x={textX[i]} baseline={609.5} size={14}>{name}</Label>
        </div>
      ))}
    </>
  );
}

function LevelLegend() {
  const keyX = [627, 687, 743.5];
  const textX = [670, 728.5, 784];
  return (
    <>
      <Label x={525} baseline={301.7} size={12}>Fictiveness Level</Label>
      {levelLabels.map((lab, i) => (
        <div key={lab}>
          <Box left={keyX[i]} top={289} width={36} height={17} bg={LEVEL_FILL[i]} />
          <Box left={keyX[i] + 2} top={296.5} width={32} height={2} bg={LEVEL_LINE[i]} />
          <Label x={textX[i]} baseline={301.5} size={11}>{lab}</Label>
        </div>
      ))}
    </>
  );
}

function BinLegend() {
  const rowY = [627.7, 642.7, 658.7];
  return (
    <>
      <Label x={541.7} baseline={612.3} size={13}>Fictiveness Bin</Label>
      {binLabels.map((lab, i) => (
        <div key={lab}>
          <Box left={545} top={rowY[i] - 1.3} width={32} height={2.6} bg={BIN_LINE[i]} />
          <Box left={558.5} top={rowY[i] - 2.5} width={5} height={5} bg={BIN_POINT[i]} radius={2.5} />
          <Label x={588} baseline={rowY[i] + 4} size={11}>{lab}</Label>
        </div>
      ))}
    </>
  );
}

export default function App() {
  return (
    <div
      style={{
        position: 'fixed',
        left: 0,
        top: 0,
        width: 800,
        height: 670,
        background: '#fff',
        overflow: 'hidden',
        fontFamily: FONT,
      }}
    >
      <ForestPlot />
      <PredictedPlot />
      <ActualPlot />
      <Label x={111} baseline={15} size={13}>A</Label>
      <Label x={140} baseline={21.7} size={21} bold>Forest Plot</Label>
      <Label x={490} baseline={15} size={13}>B</Label>
      <Label x={523} baseline={25} size={16} bold>Predicted Values</Label>
      <Label x={512} baseline={330} size={16} bold>Actual Values</Label>
      <ModelLegend />
      <LevelLegend />
      <BinLegend />
    </div>
  );
}
